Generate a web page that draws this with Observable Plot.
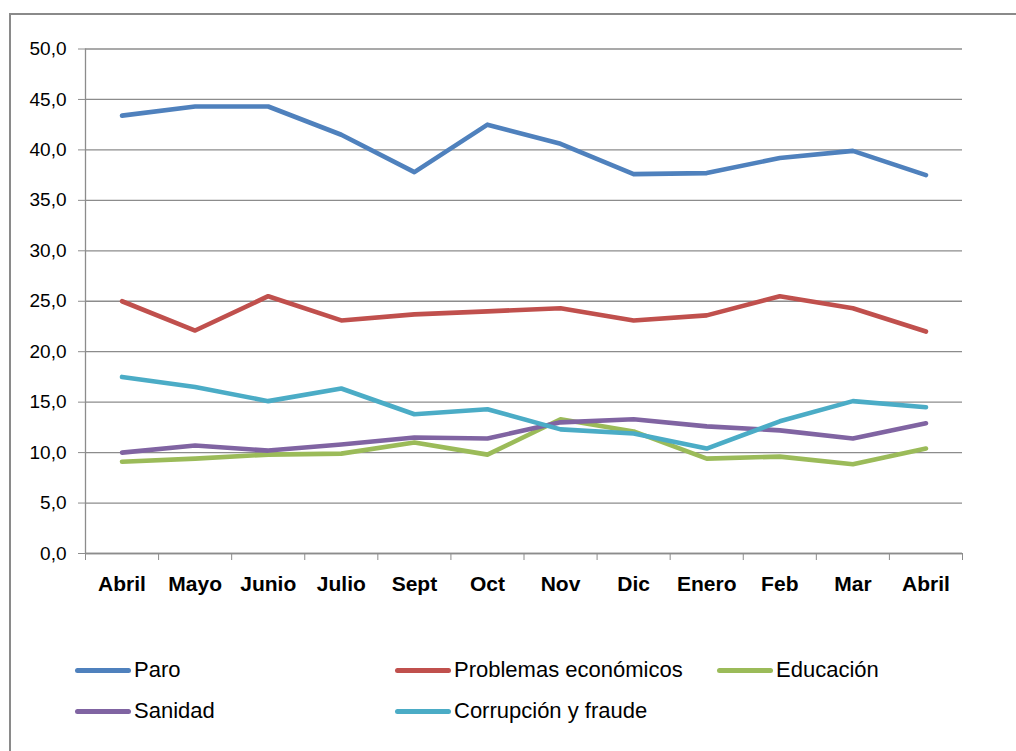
<!DOCTYPE html>
<html>
<head>
<meta charset="utf-8">
<script src="https://cdn.jsdelivr.net/npm/d3@7"></script>
<script src="https://cdn.jsdelivr.net/npm/@observablehq/plot@0.6"></script>
<style>
  body { margin: 0; background: #fff; }
  #chart { position: relative; width: 1016px; height: 751px; overflow: hidden; background: #fff;
    font-family: "Liberation Sans", Arial, sans-serif; }
  #frame { position: absolute; left: 9px; top: 13px; width: 1100px; height: 900px; border: 2px solid #8a8a8a; box-sizing: border-box; }
  #plot { position: absolute; left: 0; top: 0; }
  .leg { position: absolute; display: flex; align-items: center; font-size: 22px; color: #000; white-space: nowrap; }
  .sw { display: inline-block; width: 56px; height: 5px; border-radius: 3px; margin-right: 3px; }
</style>
</head>
<body>
<div id="chart">
  <div id="frame"></div>
  <div id="plot"></div>
</div>
<script>
const months = ["Abril","Mayo","Junio","Julio","Sept","Oct","Nov","Dic","Enero","Feb","Mar","Abril"];
const seriesNames = ["Paro","Problemas económicos","Educación","Sanidad","Corrupción y fraude"];
const seriesColors = ["#4F81BD","#C0504D","#9BBB59","#8064A2","#4BACC6"];
const paro       = [43.4,44.3,44.3,41.5,37.8,42.5,40.6,37.6,37.7,39.2,39.9,37.5];
const problemas  = [25.0,22.1,25.5,23.1,23.7,24.0,24.3,23.1,23.6,25.5,24.3,22.0];
const educacion  = [9.1,9.4,9.8,9.9,11.0,9.8,13.3,12.1,9.4,9.6,8.85,10.4];
const sanidad    = [10.0,10.7,10.2,10.8,11.5,11.4,13.0,13.3,12.6,12.2,11.4,12.9];
const corrupcion = [17.5,16.5,15.1,16.35,13.8,14.3,12.3,11.9,10.4,13.1,15.1,14.5];
const yTicks = [0,5,10,15,20,25,30,35,40,45,50];

const allSeries = [paro, problemas, educacion, sanidad, corrupcion];
const rows = [];
allSeries.forEach((vals, s) => vals.forEach((v, i) => rows.push({i, v, s: seriesNames[s]})));
const idx = months.map((m, i) => i);
const bounds = d3.range(months.length + 1).map(i => i - 0.5);

const plot = Plot.plot({
  width: 1016,
  height: 620,
  marginLeft: 85,
  marginRight: 54,
  marginTop: 48.5,
  marginBottom: 67,
  style: { background: "transparent", fontFamily: '"Liberation Sans", Arial, sans-serif', color: "#000" },
  x: { type: "linear", domain: [-0.5, months.length - 0.5] },
  y: { domain: [0, 50] },
  color: { domain: seriesNames, range: seriesColors },
  marks: [
    Plot.gridY(yTicks, { stroke: "#8c8c8c", strokeOpacity: 1, strokeWidth: 1.3 }),
    Plot.ruleX([-0.5], { stroke: "#8c8c8c", strokeWidth: 1.3 }),
    Plot.ruleY([0], { stroke: "#8c8c8c", strokeWidth: 1.3 }),
    Plot.axisY(yTicks, { tickSize: 7, tickPadding: 12, stroke: "#8c8c8c", fontSize: 19, label: null,
      tickFormat: d => d.toFixed(1).replace(".", ",") }),
    Plot.axisX(bounds, { tickSize: 7, tickFormat: () => "", stroke: "#8c8c8c", label: null }),
    Plot.axisX(idx, { tickSize: 0, tickPadding: 23, fontSize: 21, fontWeight: "bold", label: null,
      tickFormat: i => months[i] }),
    Plot.lineY(rows, { x: "i", y: "v", z: "s", stroke: "s", strokeWidth: 4.6, strokeLinecap: "round", strokeLinejoin: "round" })
  ]
});
document.getElementById("plot").appendChild(plot);

const legendPos = [[75, 670], [395, 670], [717, 670], [75, 711], [395, 711]];
const chart = document.getElementById("chart");
seriesNames.forEach((name, k) => {
  const d = document.createElement("div");
  d.className = "leg";
  d.style.left = legendPos[k][0] + "px";
  d.style.top = (legendPos[k][1] - 14) + "px";
  d.style.height = "28px";
  d.innerHTML = `<span class="sw" style="background:${seriesColors[k]}"></span><span>${name}</span>`;
  chart.appendChild(d);
});
</script>
</body>
</html>
